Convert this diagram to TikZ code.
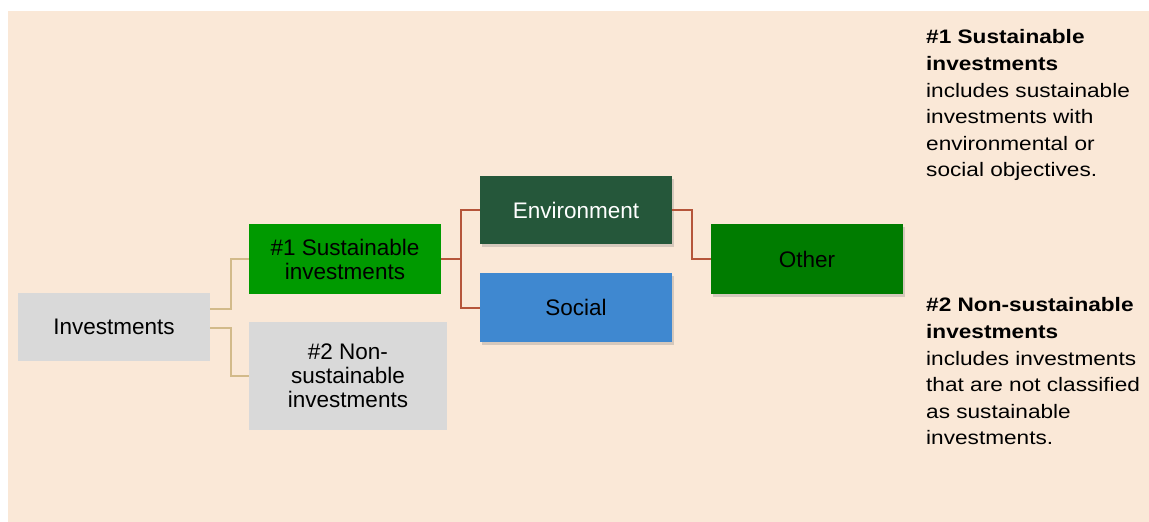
\documentclass[tikz,border=0pt]{standalone}
\usepackage{fontspec}
\setmainfont{Liberation Sans}
\newfontfamily\notefont{Liberation Sans}[FakeStretch=1.16]
\usetikzlibrary{shadows}
\definecolor{bgpanel}{HTML}{FAE8D7}
\definecolor{grayfill}{HTML}{D9D9D9}
\definecolor{greenA}{HTML}{009A00}
\definecolor{greenB}{HTML}{007C00}
\definecolor{envgreen}{HTML}{25573A}
\definecolor{socblue}{HTML}{3F88D0}
\definecolor{tanline}{HTML}{D2BA8A}
\definecolor{brownline}{HTML}{B5553A}
\tikzset{
  box/.style={rectangle, inner sep=0pt, align=center, anchor=center,
    font=\fontsize{22.5}{24}\selectfont},
  shbox/.style={box, drop shadow={opacity=0.3, shadow xshift=2pt, shadow yshift=-3pt}},
  tanconn/.style={draw=tanline, line width=1.2pt},
  brownconn/.style={draw=brownline, line width=2pt},
  note/.style={inner sep=0pt, anchor=north west, align=left,
    font=\notefont\fontsize{19.5}{26.6}\selectfont}
}
\begin{document}
\begin{tikzpicture}[x=1pt,y=-1pt]
\useasboundingbox (0,0) rectangle (1149,522);
\fill[white] (0,0) rectangle (1149,522);
\fill[bgpanel] (8,11) rectangle (1149,522);

\node[box, fill=grayfill, minimum width=192pt, minimum height=68pt] (inv) at (114,327) {Investments};
\node[box, fill=greenA, minimum width=192pt, minimum height=70pt] (sus) at (345,259) {\#1 Sustainable\\investments};
\node[box, fill=grayfill, minimum width=198pt, minimum height=108pt] (non) at (348,376) {\#2 Non-\\sustainable\\investments};
\node[shbox, fill=envgreen, text=white, minimum width=192pt, minimum height=68pt] (env) at (576,210) {Environment};
\node[shbox, fill=socblue, minimum width=192pt, minimum height=69pt] (soc) at (576,307.5) {Social};
\node[shbox, fill=greenB, minimum width=192pt, minimum height=70pt] (oth) at (807,259) {Other};

\coordinate (ia) at ([yshift=18pt]inv.east);
\coordinate (ib) at ([yshift=-1pt]inv.east);
\coordinate (j1) at (231,0);
\coordinate (j2) at (461,0);
\coordinate (j3) at (692,0);

\draw[tanconn] (ia) -- (j1 |- ia) |- (sus.west);
\draw[tanconn] (ib) -- (j1 |- ib) |- (non.west);
\draw[brownconn] (sus.east) -- (j2 |- sus.east) |- (env.west);
\draw[brownconn] (j2 |- sus.east) |- (soc.west);
\draw[brownconn] (env.east) -- (j3 |- env.east) |- (oth.west);

\node[note] (n1) at (926,29.5) {\textbf{\#1 Sustainable}\\\textbf{investments}\\includes sustainable\\investments with\\environmental or\\social objectives.};
\node[note] (n2) at (926,297.5) {\textbf{\#2 Non-sustainable}\\\textbf{investments}\\includes investments\\that are not classified\\as sustainable\\investments.};
\end{tikzpicture}
\end{document}
